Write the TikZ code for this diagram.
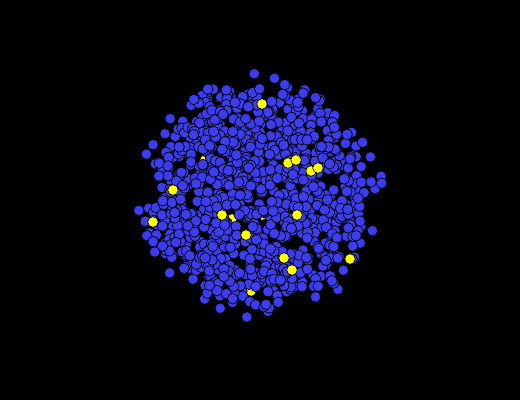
\documentclass[tikz,border=0pt]{standalone}
\definecolor{dotblue}{RGB}{60,60,240}
\definecolor{dotyellow}{RGB}{255,255,0}
\tikzset{
  bdot/.style={fill=dotblue,draw=black,line width=0.7pt},
  ydot/.style={fill=dotyellow,draw=black,line width=0.7pt}
}
\begin{document}
\begin{tikzpicture}[x=1pt,y=-1pt]
\fill[black] (0,0) rectangle (520,400);
\useasboundingbox (0,0) rectangle (520,400);
\pgfmathsetseed{11}
\foreach \x/\y in {222/215,232/219,276/207,210/281,251/291,214/130,228/228,300/176,205/160,262/215,240/175,195/270,330/200}{
  \fill[ydot] (\x,\y) circle (5.3);
}
\foreach \i in {1,...,1000}{
  \pgfmathsetmacro\u{rnd}
  \pgfmathsetmacro\t{360*rnd}
  \pgfmathsetmacro\r{112*sqrt(abs(1-(1.0001-\u)^(0.6667)))+18*rnd^2}
  \fill[bdot] ({258+\r*cos(\t)},{196+\r*sin(\t)}) circle (5.3);
}
\foreach \x/\y in {262/104,173/190,153/222,246/235,297/215,284/258,292/270,350/259,288/163,296/160,311/171,318/168,222/215}{
  \fill[ydot] (\x,\y) circle (5.3);
}
\end{tikzpicture}
\end{document}
